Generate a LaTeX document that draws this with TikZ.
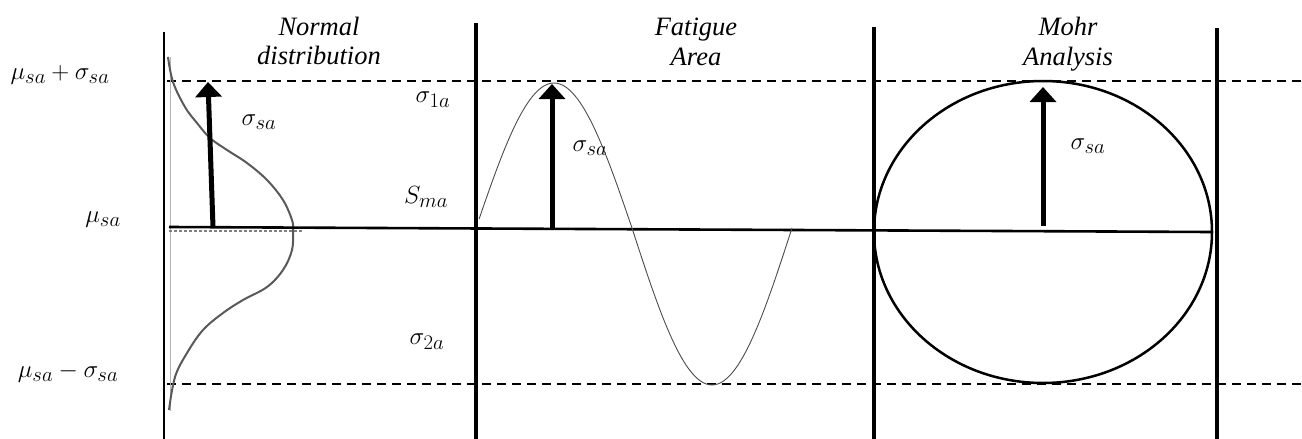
\documentclass[tikz,border=0pt]{standalone}
\usepackage{fontspec}
\setmainfont{Liberation Serif}
\usetikzlibrary{arrows.meta}
\begin{document}
\begin{tikzpicture}[x=1pt,y=-1pt,
  dashln/.style={line width=1.8pt, dash pattern=on 9pt off 6pt},
  axisln/.style={line width=2.6pt},
  bigarrow/.style={line width=5pt, -{Triangle[length=15pt,width=26pt]}},
  lbl/.style={inner sep=0pt, font=\fontsize{28.5}{32}\selectfont},
  head/.style={anchor=base, inner sep=0pt, font=\fontsize{26.5}{30}\selectfont\itshape}]
\useasboundingbox (0,0) rectangle (1302,439);
% vertical separators
\draw[line width=2.8pt] (164,32) -- (164,439);
\draw[line width=4.5pt] (476,23) -- (476,439);
\draw[line width=3.5pt] (874,27) -- (874,439);
\draw[line width=4pt] (1217,28) -- (1217,439);
% dashed levels
\draw[dashln] (167,81) -- (1302,81);
\draw[dashln] (167,384) -- (1302,384);
% normal distribution
\draw[gray!60, line width=1pt] (170,57) -- (170,411);
\draw[gray, line width=2pt, dash pattern=on 3pt off 2pt] (169,231) -- (302,231);
\draw[black!65, line width=2pt] plot[smooth, tension=0.6] coordinates {
 (168,57) (173,82) (185,107) (197,123) (210,138) (227,150) (247,163) (267,180)
 (283,200) (292,220) (293,231) (292,250) (283,270) (267,287) (243,300) (223,313)
 (203,330) (187,353) (175,377) (169,410)};
% axis
\draw[axisln] (169,227) -- (1211,232);
% sine
\draw[black!70, line width=0.9pt]
  plot[domain=479:632, samples=60] (\x, {228 - 145*sin(1.153846*(\x-476))})
  -- plot[domain=632:792, samples=60] (\x, {228 + 157*sin(1.125*(\x-632))});
% Mohr circle
\draw[line width=2.5pt] (1043,232) ellipse [x radius=169, y radius=151];
% arrows
\coordinate (a1s) at (213,227); \coordinate (a1e) at (208,82);
\coordinate (a2s) at (552,228); \coordinate (a2e) at (552,84);
\coordinate (a3s) at (1043,226); \coordinate (a3e) at (1043,87);
\draw[bigarrow] (a1s) -- (a1e);
\draw[bigarrow] (a2s) -- (a2e);
\draw[bigarrow] (a3s) -- (a3e);
% headers
\node[head] (h1a) at (319,35) {Normal};
\node[head] (h1b) at (319,64) {distribution};
\node[head] (h2a) at (696,35) {Fatigue};
\node[head] (h2b) at (696,65) {Area};
\node[head] (h3a) at (1068,35) {Mohr};
\node[head] (h3b) at (1068,65) {Analysis};
% labels
\node[lbl] (l1) at (60,75) {$\mu_{sa}+\sigma_{sa}$};
\node[lbl] (l2) at (103,220) {$\mu_{sa}$};
\node[lbl] (l3) at (68,373) {$\mu_{sa}-\sigma_{sa}$};
\node[lbl] (l4) at (259,122) {$\sigma_{sa}$};
\node[lbl] (l5) at (433,100) {$\sigma_{1a}$};
\node[lbl] (l6) at (426,197) {$S_{ma}$};
\node[lbl] (l7) at (427,342) {$\sigma_{2a}$};
\node[lbl] (l8) at (590,148) {$\sigma_{sa}$};
\node[lbl] (l9) at (1088,146) {$\sigma_{sa}$};
\end{tikzpicture}
\end{document}
